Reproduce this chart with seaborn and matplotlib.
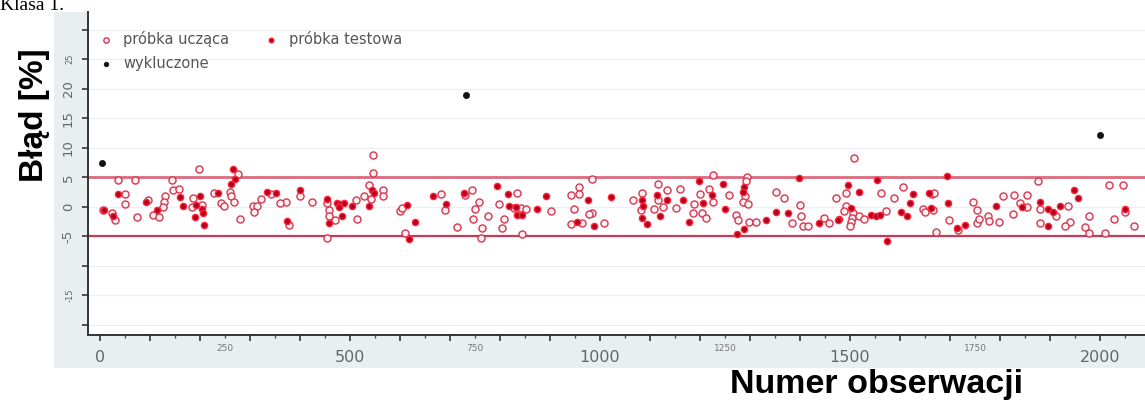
import numpy as np
import pandas as pd
import matplotlib
matplotlib.use("Agg")
import matplotlib.pyplot as plt
from matplotlib.patches import Rectangle
import seaborn as sns

# Observation number / error [%] for the training sample (open circles)
train_x = [198, 276, 35, 69, 143, 146, 157, 259, 49, 228, 261, 129, 185, 268, 341, 399, 321, 371, 360, 49,
           95, 128, 126, 203, 183, 241, 248, 305, 313, 308, 6, 23, 29, 73, 106, 117, 279, 378,
           545, 545, 537, 565, 565, 527, 542, 512, 423, 453, 457, 457, 470, 513, 453, 600, 603, 610, 682, 690,
           713, 729, 743, 758, 750, 745, 775, 763, 762, 797, 807, 803, 827,
           984, 834, 841, 851, 843, 901, 941, 957, 957, 947, 984, 977, 941, 964, 1007, 1065, 1084, 1081, 1107,
           1115, 1115, 1133, 1125, 1151, 1159, 1187, 1185, 1199, 1204, 1212, 1217, 1226, 1226,
           1508, 1293, 1291, 1289, 1285, 1296, 1258, 1271, 1276, 1298, 1311, 1351, 1368, 1383, 1400, 1401, 1405,
           1416, 1447, 1457, 1471, 1491, 1491, 1488, 1505, 1503, 1501, 1500, 1518, 1527, 1561, 1571, 1587, 1605,
           1645, 1650, 1663, 1665, 1671,
           1668, 1698, 1716, 1745, 1753, 1753, 1757, 1775, 1778, 1797, 1806, 1827, 1826, 1840, 1853, 1853, 1876,
           1880, 1880, 1911, 1935, 1940, 1930, 1969, 1977, 1978, 2009, 2018, 2028, 2045, 2050, 2068]
train_y = [6.4, 5.6, 4.5, 4.5, 4.5, 2.9, 3.1, 2.6, 2.2, 2.4, 1.8, 1.8, 1.5, 0.8, 2.2, 1.9, 1.3, 0.8, 0.6, 0.5,
           1.1, 0.9, 0.05, 0.3, -0.05, 0.6, 0.2, 0.2, 0.2, -0.8, -0.5, -1.1, -2.3, -1.8, -1.4, -1.8, -2.1, -3.1,
           8.8, 5.7, 3.7, 2.8, 1.8, 1.8, 1.3, 1.1, 0.9, 0.6, -0.6, -1.6, -2.2, -2.1, -5.3, -0.7, -0.2, -4.5, 2.2, -0.5,
           -3.4, 2.0, 2.9, 0.8, -0.4, -2.1, -1.5, -3.5, -5.3, 0.5, -2.1, -3.5, -0.2,
           4.7, 2.4, -0.2, -0.4, -4.6, -0.7, 2.0, 3.3, 2.2, -0.4, -1.0, -1.2, -2.9, -2.8, -2.8, 1.1, 2.4, -0.5, -0.4,
           3.8, 1.1, 2.8, -0.1, -0.2, 3.1, 0.5, -1.0, 2.1, -1.1, -1.9, 3.0, 0.9, 5.4,
           8.2, 5.1, 4.3, 1.8, 0.9, 0.5, 2.0, -1.4, -2.3, -2.5, -2.5, 2.6, 1.5, -2.8, 0.3, -1.6, -3.3,
           -3.2, -1.9, -2.8, 1.5, 2.4, 0.2, -0.7, -1.1, -1.9, -2.5, -3.2, -1.6, -2.1, 2.4, -0.7, 1.5, 3.3,
           -0.4, -0.8, 2.2, -0.5, -4.2,
           2.3, -2.3, -3.9, 0.8, -0.5, -2.8, -2.1, -1.5, -2.4, -2.5, 1.8, 2.0, -1.2, 0.6, 2.0, -0.05, 4.4,
           -0.4, -2.8, -1.5, 0.2, -2.5, -3.2, -3.4, -1.6, -4.5, -4.5, 3.7, -2.1, 3.7, -0.9, -3.2]

# Test sample (filled dots)
test_x = [265, 269, 261, 36, 236, 159, 199, 333, 351, 399, 91, 166, 191, 203, 206, 8, 26, 113, 189, 207, 374,
          543, 548, 537, 503, 453, 473, 480, 487, 477, 457, 483, 613, 630, 617, 665, 692, 727, 793, 815, 817,
          831, 834, 844, 874, 891, 976, 953, 987, 1022, 1084, 1085, 1083, 1094, 1113, 1134, 1119, 1165, 1177,
          1197, 1205, 1223, 1245, 1249,
          1288, 1286, 1288, 1273, 1331, 1351, 1375, 1398, 1438, 1478, 1475, 1495, 1501, 1518, 1541, 1551, 1560,
          1553, 1573, 1601, 1613, 1619, 1625, 1658, 1661,
          1693, 1695, 1713, 1730, 1791, 1843, 1880, 1895, 1895, 1906, 1919, 1948, 1955, 2049]
test_y = [6.4, 4.7, 3.9, 2.2, 2.3, 1.6, 1.8, 2.6, 2.3, 2.8, 0.9, 0.2, 0.3, -0.4, -1.1, -0.5, -1.6, -0.6, -1.8, -3.1, -2.4,
          2.9, 2.3, 0.2, 0.2, 1.3, 0.7, 0.5, 0.7, 0.05, -2.8, -1.6, 0.3, -2.5, -5.5, 1.9, 0.5, 2.4, 3.6, 2.2, 0.2,
          0.05, -1.4, -1.4, -0.3, 1.8, 1.2, -2.5, -3.3, 1.6, 1.1, 0.2, -1.9, -2.9, 2.0, 1.2, -1.6, 1.1, -2.5,
          4.4, 0.6, 2.0, 3.8, -0.4,
          3.4, 2.6, -3.7, -4.6, -2.3, -0.8, -1.0, 4.9, -2.8, -2.1, -2.3, 3.7, -0.2, 2.6, -1.4, -1.5, -1.4,
          4.5, -5.7, -0.9, -1.6, 0.6, 2.2, 2.4, -0.2,
          5.3, 0.6, -3.5, -3.1, 0.2, -0.05, 0.8, -0.4, -3.2, -0.8, 0.2, 2.9, 1.5, -0.4]

# Excluded observations
excl_x = [3, 732, 2000]
excl_y = [7.5, 19.0, 12.2]

band_limits = [5, -5]

x_major_labels = {0: "0", 500: "500", 1000: "1000", 1500: "1500", 2000: "2000"}
x_minor_labels = {250: "250", 750: "750", 1250: "1250", 1750: "1750"}
y_major_labels = {30: "", 20: "20", 15: "15", 10: "10", 5: "5", 0: "0", -5: "-5", -10: "", -20: ""}
y_minor_labels = {25: "25", -15: "-15"}

train = pd.DataFrame({"obs": train_x, "err": train_y})
test = pd.DataFrame({"obs": test_x, "err": test_y})
excl = pd.DataFrame({"obs": excl_x, "err": excl_y})

sns.set_style("white")
plt.rcParams["font.family"] = ["DejaVu Sans"]

W, H = 1145, 405
fig = plt.figure(figsize=(W / 100, H / 100), dpi=100)
fig.patch.set_facecolor("white")

# light panel behind the plot
fig.patches.append(Rectangle((54 / W, (H - 368) / H), (W - 54) / W, (368 - 12) / H,
                             transform=fig.transFigure, facecolor="#e9eef1", edgecolor="none", zorder=-10))

ax = fig.add_axes([88 / W, (H - 335) / H, (W - 88) / W, (335 - 12) / H])
ax.set_zorder(2)
ax.set_facecolor("white")
ax.set_xlim(-24, 2090)
ax.set_ylim(-21.7, 33)

for gy in range(-20, 35, 5):
    ax.axhline(gy, color="#edf0f3", lw=0.9, zorder=0)
ax.axhline(band_limits[0], color="#dc6a80", lw=2.0, zorder=1)
ax.axhline(band_limits[1], color="#c43c58", lw=1.6, zorder=1)

sns.scatterplot(data=train, x="obs", y="err", ax=ax, marker="o", s=26,
                facecolors="#fff0f2", edgecolor="#d03a52", linewidth=1.0, label="próbka ucząca", zorder=3)
sns.scatterplot(data=test, x="obs", y="err", ax=ax, marker="o", s=20,
                color="#b0001e", edgecolor="#ff2438", linewidth=1.0, label="próbka testowa", zorder=4)
sns.scatterplot(data=excl, x="obs", y="err", ax=ax, marker="o", s=20,
                color="#111111", edgecolor="#111111", linewidth=0.5, label="wykluczone", zorder=5)

ax.set_xlabel("")
ax.set_ylabel("")

# ticks
xmaj = np.arange(0, 2100, 100)
xmin = np.arange(50, 2100, 100)
ax.set_xticks(xmaj, labels=[x_major_labels.get(int(v), "") for v in xmaj])
ax.set_xticks(xmin, labels=[x_minor_labels.get(int(v), "") for v in xmin], minor=True)
ymaj = sorted(y_major_labels)
ymin = sorted(y_minor_labels)
ax.set_yticks(ymaj, labels=[y_major_labels[v] for v in ymaj])
ax.set_yticks(ymin, labels=[y_minor_labels[v] for v in ymin], minor=True)

ax.tick_params(axis="x", which="major", direction="out", length=4, width=1.2, color="#333333",
               labelsize=11.5, labelcolor="#666666", pad=7, bottom=True)
ax.tick_params(axis="x", which="minor", direction="out", length=2.5, width=1.0, color="#555555",
               labelsize=6.5, labelcolor="#777777", pad=4, bottom=True)
ax.tick_params(axis="y", which="both", direction="out", length=4.5, width=1.2, color="#333333",
               labelcolor="#666666", pad=5, left=True)
ax.tick_params(axis="y", which="major", labelsize=9.5)
ax.tick_params(axis="y", which="minor", labelsize=6)
for lab in ax.get_yticklabels(which="both"):
    lab.set_rotation(90)
    lab.set_va("center")

for side in ("top", "right"):
    ax.spines[side].set_visible(False)
for side in ("left", "bottom"):
    ax.spines[side].set_color("#333333")
    ax.spines[side].set_linewidth(1.4)

handles, labels = ax.get_legend_handles_labels()
order = [0, 2, 1]
leg = ax.legend([handles[i] for i in order], [labels[i] for i in order], loc="upper left", ncol=2,
                bbox_to_anchor=(0.0, 0.972), frameon=False, fontsize=10.5, handletextpad=0.7,
                columnspacing=2.4, labelspacing=0.62, borderaxespad=0.3, handlelength=1.0, markerscale=0.75)
for t in leg.get_texts():
    t.set_color("#555555")

fig.text(35 / W, 1 - 115 / H, "Błąd [%]", rotation=90, ha="center", va="center",
         fontsize=24, fontweight="bold", family="Liberation Sans", color="black")
fig.text(877 / W, 1 - 385 / H, "Numer obserwacji", ha="center", va="center",
         fontsize=24.5, fontweight="bold", family="Liberation Sans", color="black")
fig.text(0.0, 1 - 10 / H, "Klasa 1.", ha="left", va="baseline",
         fontsize=14, family="Liberation Serif", color="black")

fig.savefig("out.png", dpi=100)
